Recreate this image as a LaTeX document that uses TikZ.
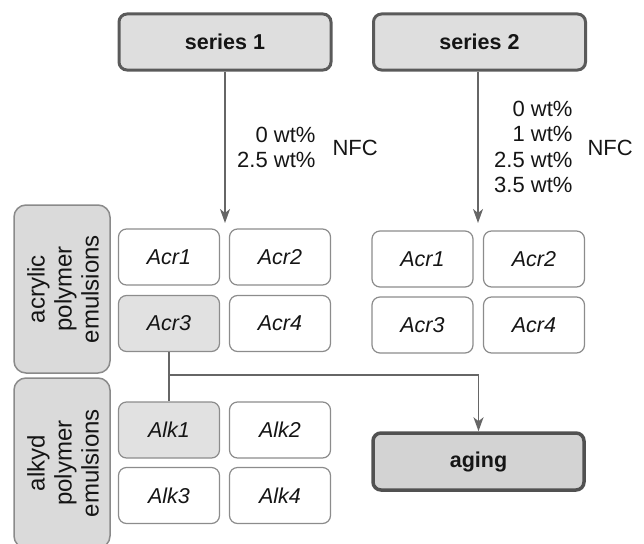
\documentclass[tikz,border=0pt]{standalone}
\usepackage{fontspec}
\setmainfont{Liberation Sans}
\usetikzlibrary{arrows.meta}
\definecolor{txt}{HTML}{151515}
\definecolor{bigfill}{HTML}{DEDEDE}
\definecolor{bigdraw}{HTML}{5A5A5A}
\definecolor{agefill}{HTML}{D3D3D3}
\definecolor{smalldraw}{HTML}{8C8C8C}
\definecolor{shadefill}{HTML}{E1E1E1}
\definecolor{sidefill}{HTML}{DADADA}
\definecolor{sidedraw}{HTML}{8A8A8A}
\definecolor{linec}{HTML}{666666}
\tikzset{
  bigbox/.style={draw=bigdraw, fill=bigfill, line width=3pt, rounded corners=8pt,
    minimum width=212pt, minimum height=56pt, text=txt,
    font=\fontsize{21.5}{24}\selectfont\bfseries},
  smallbox/.style={draw=smalldraw, fill=white, line width=1.2pt, rounded corners=8pt,
    minimum width=101pt, minimum height=56pt, text=txt,
    font=\fontsize{21.5}{24}\selectfont\itshape},
  shadebox/.style={smallbox, fill=shadefill},
  sidebox/.style={draw=sidedraw, fill=sidefill, line width=1.5pt, rounded corners=12pt,
    minimum width=96pt, text=txt, inner sep=0pt},
  sidetext/.style={rotate=90, align=center, text=txt,
    font=\fontsize{24}{27}\selectfont},
  conc/.style={align=right, text=txt, font=\fontsize{22}{25.5}\selectfont},
  conn/.style={draw=linec, line width=1.6pt},
  arr/.style={conn, -{Stealth[length=14pt,width=10pt,inset=4pt]}}
}
\begin{document}
\begin{tikzpicture}[x=1pt,y=-1pt]
\useasboundingbox (0,0) rectangle (644,543);
% top boxes
\node[bigbox] (s1) at (225,42) {series 1};
\node[bigbox] (s2) at (479.5,42) {series 2};
% side labels
\node[sidebox, minimum height=168pt] (sideA) at (62,289) {};
\node[sidetext] (sideAt) at ([xshift=1pt]sideA.center) {acrylic\\polymer\\emulsions};
\node[sidebox, minimum height=170pt] (sideB) at (62,463) {};
\node[sidetext] (sideBt) at ([xshift=1pt]sideB.center) {alkyd\\polymer\\emulsions};
% left acrylic group
\node[smallbox] (la1) at (169,257) {Acr1};
\node[smallbox] (la2) at (280,257) {Acr2};
\node[shadebox] (la3) at (169,323.5) {Acr3};
\node[smallbox] (la4) at (280,323.5) {Acr4};
% alkyd group
\node[shadebox] (lk1) at (169,430) {Alk1};
\node[smallbox] (lk2) at (280,430) {Alk2};
\node[smallbox] (lk3) at (169,495.5) {Alk3};
\node[smallbox] (lk4) at (280,495.5) {Alk4};
% right acrylic group
\node[smallbox] (ra1) at (422.5,259) {Acr1};
\node[smallbox] (ra2) at (534,259) {Acr2};
\node[smallbox] (ra3) at (422.5,325) {Acr3};
\node[smallbox] (ra4) at (534,325) {Acr4};
% aging
\node[bigbox, fill=agefill, draw=bigdraw!90!black, line width=3.5pt, minimum width=211pt, minimum height=57pt] (aging) at (478.5,461.5) {aging};
% concentration labels
\node[conc, anchor=east] (c1) at (319,147.5) {0 wt\%\\2.5 wt\%};
\node[conc, anchor=west] (n1) at (329,148) {NFC};
\node[conc, anchor=east] (c2) at (576,147) {0 wt\%\\1 wt\%\\2.5 wt\%\\3.5 wt\%};
\node[conc, anchor=west] (n2) at (584,148) {NFC};
% connectors
\coordinate (e1) at (225,223);
\coordinate (e2) at (478,223);
\draw[arr] (s1.south) -- (e1);
\draw[arr] (s2.south -| e2) -- (e2);
\coordinate (j) at (169,375);
\draw[conn] (la3.south) -- (lk1.north);
\draw[arr] (j) -| (aging.north);
\end{tikzpicture}
\end{document}
